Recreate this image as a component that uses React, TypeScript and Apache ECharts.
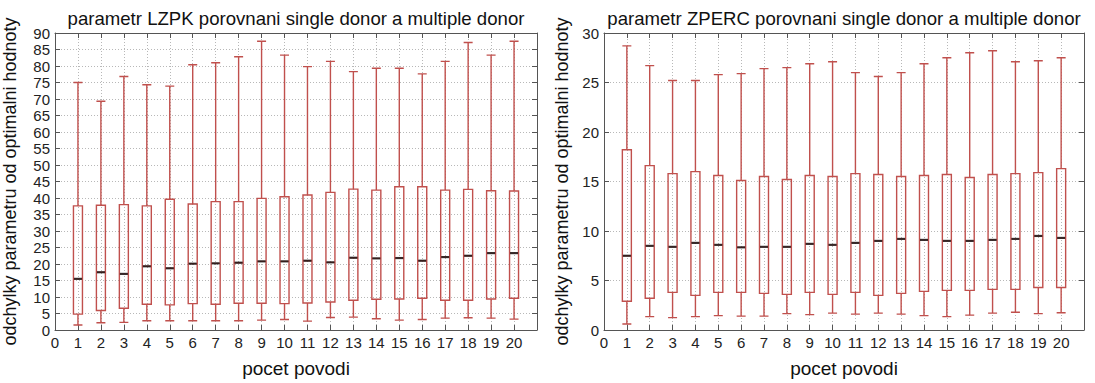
import { useEffect, useRef } from 'react';
import * as echarts from 'echarts';

const povodi = [1, 2, 3, 4, 5, 6, 7, 8, 9, 10, 11, 12, 13, 14, 15, 16, 17, 18, 19, 20];

const lzpkMin = [1.5, 2.2, 2.3, 2.8, 2.8, 2.8, 2.8, 2.8, 3.0, 3.2, 2.7, 3.8, 3.9, 3.4, 3.0, 3.2, 3.6, 3.7, 3.6, 3.3];
const lzpkQ1 = [4.8, 5.9, 6.6, 7.8, 7.6, 8.0, 7.8, 8.1, 8.1, 8.0, 8.2, 8.5, 9.0, 9.3, 9.4, 9.6, 9.0, 9.0, 9.4, 9.6];
const lzpkMedian = [15.5, 17.5, 17.0, 19.3, 18.7, 20.1, 20.2, 20.4, 20.8, 20.8, 21.0, 20.5, 21.9, 21.7, 21.8, 21.0, 22.1, 22.5, 23.3, 23.3];
const lzpkQ3 = [37.6, 37.8, 38.0, 37.6, 39.6, 38.2, 38.9, 38.9, 39.9, 40.4, 40.9, 41.7, 42.7, 42.4, 43.4, 43.4, 42.4, 42.6, 42.2, 42.1];
const lzpkMax = [75.0, 69.3, 76.8, 74.3, 73.9, 80.4, 81.0, 82.8, 87.5, 83.3, 79.8, 81.4, 78.3, 79.3, 79.3, 77.6, 81.4, 87.1, 83.3, 87.5];

const zpercMin = [0.6, 1.35, 1.25, 1.35, 1.45, 1.4, 1.4, 1.65, 1.55, 1.7, 1.6, 1.7, 1.6, 1.45, 1.35, 1.5, 1.7, 1.8, 1.65, 1.75];
const zpercQ1 = [2.9, 3.2, 3.8, 3.5, 3.8, 3.8, 3.7, 3.6, 3.8, 3.6, 3.8, 3.5, 3.7, 3.9, 4.0, 4.0, 4.1, 4.1, 4.3, 4.3];
const zpercMedian = [7.5, 8.5, 8.4, 8.8, 8.6, 8.35, 8.4, 8.4, 8.7, 8.6, 8.8, 9.0, 9.2, 9.1, 9.0, 9.0, 9.1, 9.2, 9.5, 9.3];
const zpercQ3 = [18.2, 16.6, 15.8, 16.0, 15.6, 15.1, 15.5, 15.2, 15.6, 15.5, 15.8, 15.7, 15.5, 15.6, 15.7, 15.4, 15.7, 15.8, 15.9, 16.3];
const zpercMax = [28.7, 26.7, 25.2, 25.2, 25.8, 25.9, 26.4, 26.5, 26.9, 27.1, 26.0, 25.6, 26.0, 26.9, 27.5, 28.0, 28.2, 27.1, 27.2, 27.5];

const titles = [
  'parametr LZPK porovnani single donor a multiple donor',
  'parametr ZPERC porovnani single donor a multiple donor',
];
const xName = 'pocet povodi';
const yName = 'odchylky parametru od optimalni hodnoty';
const xTicks = { min: 0, max: 21, interval: 1 };
const yTicksLzpk = { min: 0, max: 90, interval: 5 };
const yTicksZperc = { min: 0, max: 30, interval: 5 };

const FONT = "'Liberation Sans', Arial, sans-serif";
const RED = '#c0504d';
const FRAME = '#555';

export default function App() {
  const ref = useRef<HTMLDivElement>(null);
  useEffect(() => {
    if (!ref.current) return;
    const chart = echarts.init(ref.current, null, { renderer: 'svg' });

    const boxData = (mn: number[], q1: number[], md: number[], q3: number[], mx: number[]) =>
      povodi.map((x, i) => [x, mn[i], q1[i], md[i], q3[i], mx[i]]);
    const medData = (md: number[]) => povodi.map((x, i) => [x, md[i]]);

    const grids = [
      { left: 55, top: 33, width: 482, height: 297, show: false },
      { left: 604, top: 33, width: 480, height: 297, show: false },
    ];

    const mkX = (gridIndex: number, pos: 'bottom' | 'top') => ({
      type: 'value',
      gridIndex,
      position: pos,
      ...xTicks,
      axisLine: { show: true, onZero: false, lineStyle: { color: FRAME, width: 1 } },
      axisTick: { show: true, inside: true, length: 5, lineStyle: { color: FRAME } },
      axisLabel: pos === 'bottom'
        ? {
            show: true,
            margin: 5,
            fontSize: 15,
            color: '#222',
            fontFamily: FONT,
            formatter: (v: number) => (v > 20 ? '' : String(v)),
          }
        : { show: false },
      splitLine: pos === 'bottom'
        ? { show: true, lineStyle: { color: '#b8b8b8', type: [1, 2], width: 1 } }
        : { show: false },
      name: pos === 'bottom' ? xName : '',
      nameLocation: 'middle',
      nameGap: 29,
      nameTextStyle: { fontSize: 19, color: '#111', fontFamily: FONT },
    });

    const mkY = (gridIndex: number, pos: 'left' | 'right', ticks: any, gap: number) => ({
      type: 'value',
      gridIndex,
      position: pos,
      ...ticks,
      axisLine: { show: true, onZero: false, lineStyle: { color: FRAME, width: 1 } },
      axisTick: { show: true, inside: true, length: 5, lineStyle: { color: FRAME } },
      axisLabel: pos === 'left'
        ? { show: true, margin: 5, fontSize: 15, color: '#222', fontFamily: FONT }
        : { show: false },
      splitLine: pos === 'left'
        ? { show: true, lineStyle: { color: '#b8b8b8', type: [1, 2], width: 1 } }
        : { show: false },
      name: pos === 'left' ? yName : '',
      nameLocation: 'middle',
      nameRotate: 90,
      nameGap: gap,
      nameTextStyle: { fontSize: 18, color: '#111', fontFamily: FONT },
    });

    const boxSeries = (xi: number, yi: number, data: any[]) => ({
      type: 'boxplot',
      xAxisIndex: xi,
      yAxisIndex: yi,
      boxWidth: [9, 9],
      data,
      itemStyle: { color: 'transparent', borderColor: RED, borderWidth: 1.4 },
      emphasis: { disabled: true },
      z: 3,
    });
    const medSeries = (xi: number, yi: number, data: any[]) => ({
      type: 'scatter',
      xAxisIndex: xi,
      yAxisIndex: yi,
      symbol: 'rect',
      symbolSize: [8, 2.2],
      itemStyle: { color: '#111' },
      data,
      z: 4,
      silent: true,
    });

    chart.setOption({
      animation: false,
      backgroundColor: '#fff',
      title: [
        {
          text: titles[0],
          left: 296,
          top: 9,
          textAlign: 'center',
          padding: 0,
          textStyle: { fontSize: 18.6, fontWeight: 'normal', color: '#111', fontFamily: FONT },
        },
        {
          text: titles[1],
          left: 844,
          top: 9,
          textAlign: 'center',
          padding: 0,
          textStyle: { fontSize: 18.6, fontWeight: 'normal', color: '#111', fontFamily: FONT },
        },
      ],
      grid: grids,
      xAxis: [mkX(0, 'bottom'), mkX(0, 'top'), mkX(1, 'bottom'), mkX(1, 'top')],
      yAxis: [
        mkY(0, 'left', yTicksLzpk, 36),
        mkY(0, 'right', yTicksLzpk, 36),
        mkY(1, 'left', yTicksZperc, 33),
        mkY(1, 'right', yTicksZperc, 33),
      ],
      series: [
        boxSeries(0, 0, boxData(lzpkMin, lzpkQ1, lzpkMedian, lzpkQ3, lzpkMax)),
        medSeries(0, 0, medData(lzpkMedian)),
        boxSeries(2, 2, boxData(zpercMin, zpercQ1, zpercMedian, zpercQ3, zpercMax)),
        medSeries(2, 2, medData(zpercMedian)),
      ],
    });
    return () => chart.dispose();
  }, []);
  return (
    <div
      ref={ref}
      style={{ position: 'fixed', left: 0, top: 0, width: 1095, height: 383, background: '#fff' }}
    />
  );
}
